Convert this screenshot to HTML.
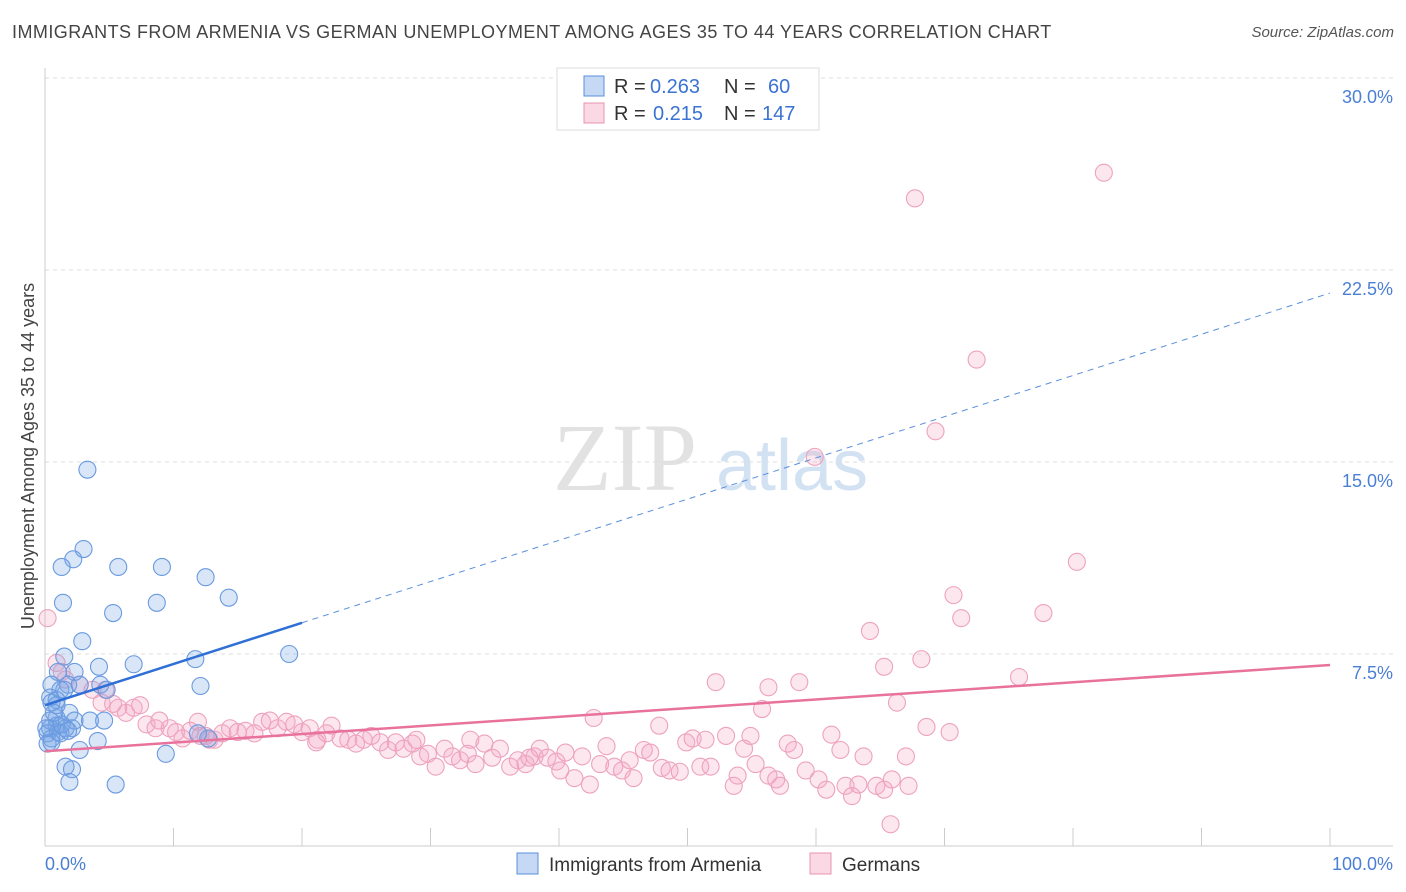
<!DOCTYPE html>
<html><head><meta charset="utf-8">
<style>
body{margin:0;background:#fff;font-family:"Liberation Sans",sans-serif;}
#wrap{position:relative;width:1406px;height:892px;overflow:hidden;}
.t{position:absolute;white-space:nowrap;}
</style></head>
<body>
<div id="wrap">
<div class="t" style="left:12px;top:22px;font-size:18px;color:#444;letter-spacing:0.45px;">IMMIGRANTS FROM ARMENIA VS GERMAN UNEMPLOYMENT AMONG AGES 35 TO 44 YEARS CORRELATION CHART</div>
<div class="t" style="right:12px;top:24px;font-size:15px;color:#555;font-style:italic;">Source: ZipAtlas.com</div>
<svg id="chart" width="1406" height="892" style="position:absolute;left:0;top:0;"></svg>
</div>
<script>
const blueX=[3.3,3.0,2.2,1.3,5.7,9.1,12.5,1.4,5.3,8.7,14.3,2.9,1.5,6.9,11.7,19.0,4.2,1.0,2.3,0.5,1.8,2.7,4.3,4.8,12.1,1.2,0.4,0.9,0.5,1.9,0.9,0.4,2.3,3.5,4.6,0.9,1.6,0.4,2.1,1.0,0.2,0.5,1.2,4.1,0.2,2.7,9.4,12.7,11.9,1.6,2.1,1.9,5.5,0.5,1.3,0.7,1.8,0.1,0.9,1.5];
const blueY=[14.7,11.6,11.2,10.9,10.9,10.9,10.5,9.5,9.1,9.5,9.7,8.0,7.4,7.1,7.3,7.5,7.0,6.8,6.8,6.3,6.3,6.3,6.3,6.1,6.25,6.1,5.8,5.7,5.6,5.2,5.0,4.9,4.9,4.9,4.9,4.7,4.6,4.6,4.6,4.45,4.4,4.2,4.4,4.1,4.0,3.75,3.6,4.2,4.4,3.1,3.0,2.5,2.4,4.05,4.75,5.2,4.5,4.6,5.5,6.1];
const pinkX=[82.4,67.7,72.5,69.3,59.9,80.3,70.7,77.7,71.3,64.2,68.2,65.3,75.8,52.2,56.3,58.7,66.3,55.8,42.7,68.6,70.4,47.8,0.2,0.9,1.3,1.6,2.7,3.7,4.7,4.4,5.3,5.7,6.3,6.9,7.4,7.9,8.6,8.9,9.7,10.2,10.7,11.3,11.9,12.5,13.2,13.8,14.4,15.0,15.6,16.3,16.9,17.5,18.1,18.8,19.4,20.0,20.6,21.2,21.9,22.3,23.0,23.6,24.2,24.8,25.4,26.1,26.7,27.3,27.9,28.6,29.2,29.8,30.4,31.1,31.7,32.3,32.9,33.5,34.2,34.8,35.4,36.2,36.8,37.4,38.1,38.5,39.1,39.8,40.5,41.2,41.8,42.4,43.2,43.7,44.3,44.9,45.5,45.8,46.6,47.1,48.0,48.6,49.4,49.9,50.4,51.0,51.4,51.8,53.0,53.6,53.9,54.4,54.9,55.3,56.3,56.9,57.2,57.8,58.3,59.2,60.2,60.8,61.2,61.9,62.3,62.8,63.3,63.7,64.7,65.3,65.9,67.0,67.2,65.8,21.1,28.9,12.1,12.8,40.1,33.1,37.7];
const pinkY=[26.3,25.3,19.0,16.2,15.2,11.1,9.8,9.1,8.9,8.4,7.3,7.0,6.6,6.4,6.2,6.4,5.6,5.35,5.0,4.65,4.45,4.7,8.9,7.15,6.8,6.5,6.3,6.1,6.1,5.6,5.55,5.4,5.2,5.4,5.5,4.75,4.6,4.9,4.6,4.45,4.2,4.5,4.85,4.3,4.15,4.4,4.6,4.45,4.5,4.4,4.85,4.9,4.6,4.85,4.75,4.45,4.6,4.15,4.4,4.7,4.2,4.15,4.0,4.15,4.3,4.05,3.75,4.05,3.8,4.0,3.5,3.6,3.1,3.8,3.5,3.35,3.6,3.2,4.0,3.45,3.8,3.1,3.35,3.2,3.5,3.8,3.45,3.3,3.65,2.65,3.5,2.4,3.2,3.9,3.1,2.95,3.35,2.65,3.75,3.65,3.05,2.95,2.9,4.05,4.2,3.1,4.15,3.1,4.3,2.35,2.75,3.8,4.3,3.2,2.75,2.6,2.35,4.0,3.75,2.95,2.6,2.2,4.35,3.75,2.35,1.95,2.4,3.5,2.35,2.2,2.6,3.5,2.35,0.85,4.05,4.15,4.3,4.15,2.95,4.15,3.45];
const yTicks=[7.5,15.0,22.5,30.0];
const xTickVals=[0,10,20,30,40,50,60,70,80,90,100];
const blueTrend=[5.5,21.6];
const pinkTrend=[3.7,7.07];

const svg=document.getElementById('chart');
const NS='http://www.w3.org/2000/svg';
const X0=45,X1=1330,Y0=846,YPER=25.6;
const sx=v=>X0+(X1-X0)*v/100;
const sy=v=>Y0-v*YPER;
function mk(tag,attrs){const e=document.createElementNS(NS,tag);for(const k in attrs)e.setAttribute(k,attrs[k]);svg.appendChild(e);return e;}

let w=mk('text',{x:553,y:490,'font-size':96,fill:'#e2e2e2','font-family':'Liberation Serif'});w.textContent='ZIP';


let w2=mk('text',{x:716,y:490,'font-size':72,fill:'#d3e2f3','font-family':'Liberation Sans'});w2.textContent='atlas';



yTicks.forEach(v=>{
 const g=mk('line',{x1:X0,x2:1393,y1:sy(v),y2:sy(v),stroke:'#ddd','stroke-dasharray':'4,4'});
 
 
 const t=mk('text',{x:1393,y:sy(v)+25,'text-anchor':'end','font-size':18,fill:'#4a7fd4'});
 t.textContent=v.toFixed(1)+'%';
 
 
});
let ya=mk('line',{x1:X0,x2:X0,y1:68,y2:Y0,stroke:'#ccc'});


let xa=mk('line',{x1:X0,x2:1393,y1:Y0,y2:Y0,stroke:'#ccc'});


xTickVals.forEach(v=>{
 const t=mk('line',{x1:sx(v),x2:sx(v),y1:828,y2:Y0,stroke:'#ccc'});
 
 
});
let xl=mk('text',{x:45,y:870,'font-size':18,fill:'#4a7fd4'});xl.textContent='0.0%';


let xr=mk('text',{x:1393,y:870,'text-anchor':'end','font-size':18,fill:'#4a7fd4'});xr.textContent='100.0%';


let yt=mk('text',{x:0,y:0,'font-size':18,fill:'#444',transform:'translate(34,456) rotate(-90)','text-anchor':'middle'});
yt.textContent='Unemployment Among Ages 35 to 44 years';



pinkX.forEach((x,i)=>{
 const c=mk('circle',{cx:sx(x),cy:sy(pinkY[i]),r:8.5,fill:'rgba(244,170,196,0.28)',stroke:'#eea2bd','stroke-width':1.1});
 
 
});
blueX.forEach((x,i)=>{
 const c=mk('circle',{cx:sx(x),cy:sy(blueY[i]),r:8.5,fill:'rgba(120,165,230,0.28)',stroke:'#6a9ae0','stroke-width':1.1});
 
 
});
const by=x=>blueTrend[0]+(blueTrend[1]-blueTrend[0])*x/100;
let bt=mk('line',{x1:sx(0),y1:sy(by(0)),x2:sx(20),y2:sy(by(20)),stroke:'#2f6fd6','stroke-width':2.5});


let bd=mk('line',{x1:sx(20),y1:sy(by(20)),x2:sx(100),y2:sy(by(100)),stroke:'#5a8fdc','stroke-width':1,'stroke-dasharray':'6,5'});


let pt=mk('line',{x1:sx(0),y1:sy(pinkTrend[0]),x2:sx(100),y2:sy(pinkTrend[1]),stroke:'#e8729c','stroke-width':2.5});



let lb=mk('rect',{x:557,y:68,width:262,height:62,fill:'#fff',stroke:'#ddd'});


[[0,'0.263','60',650,768,'rgba(110,160,230,0.4)','#5a8fdc'],[1,'0.215','147',653,762,'rgba(242,160,188,0.4)','#e994b2']].forEach(r=>{
 const y=86+r[0]*27;
 const s=mk('rect',{x:584,y:y-10,width:20,height:20,fill:r[5],stroke:r[6]});
 
 
 const parts=[[614,'R =','#333'],[r[3],r[1],'#3b73d4'],[724,'N =','#333'],[r[4],r[2],'#3b73d4']];
 parts.forEach(p=>{
  const t=mk('text',{x:p[0],y:y+7,'font-size':20,fill:p[2]});
  t.textContent=p[1];
  
  
 });
});
[[517,'Immigrants from Armenia','rgba(110,160,230,0.4)','#5a8fdc'],[810,'Germans','rgba(242,160,188,0.4)','#e994b2']].forEach(r=>{
 const s=mk('rect',{x:r[0],y:853,width:21,height:21,fill:r[2],stroke:r[3]});
 
 
 const t=mk('text',{x:r[0]+32,y:871,'font-size':19,fill:'#333'});
 t.textContent=r[1];
 
 
});
</script>
</body></html>
